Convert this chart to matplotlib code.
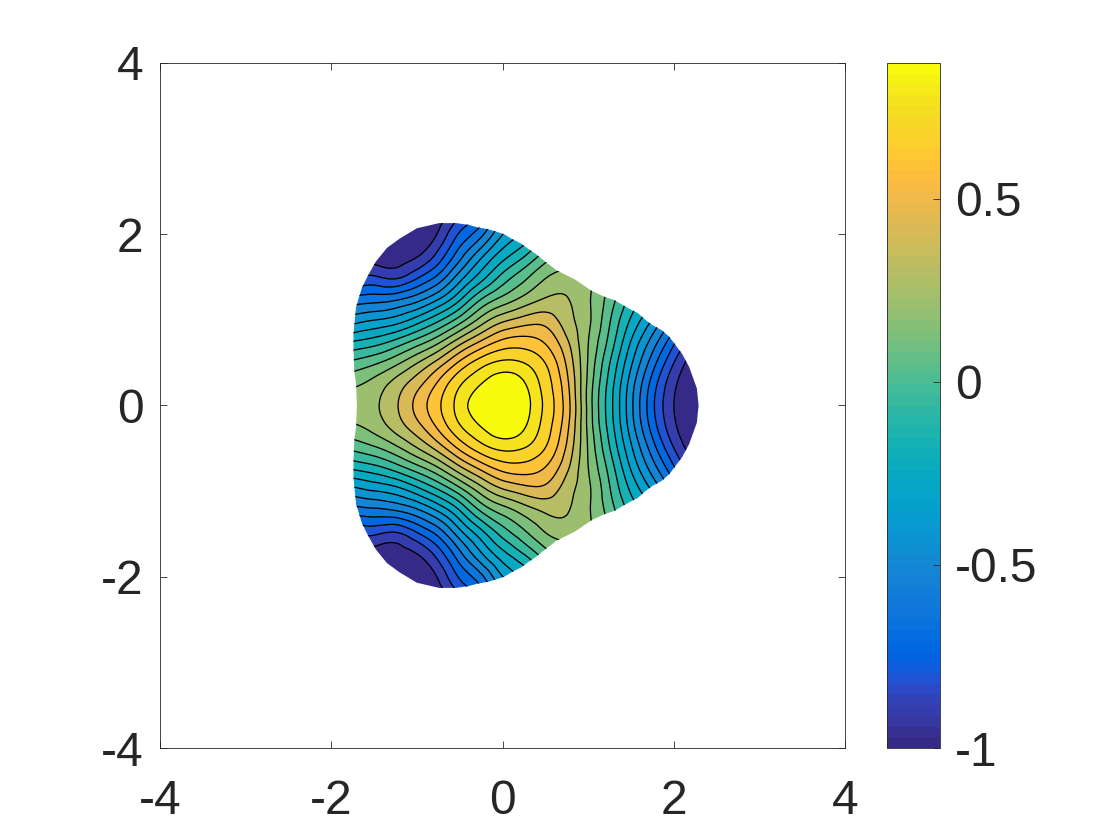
import numpy as np
import matplotlib
matplotlib.use("Agg")
import matplotlib.pyplot as plt
from matplotlib.colors import ListedColormap, Normalize
from matplotlib.cm import ScalarMappable
from matplotlib.patches import Polygon
from matplotlib.tri import Triangulation, UniformTriRefiner

plt.rcParams['font.family'] = ['Liberation Sans', 'DejaVu Sans']

# Field values (upper half; the lower half mirrors it)
x_grid = [-2, -1.75, -1.5, -1.25, -1, -.75, -.5, -.25, 0, .25, .5, .75, 1, 1.25, 1.5, 1.75, 2, 2.25, 2.5]
y_grid = [0, .25, .5, .75, 1, 1.25, 1.5, 1.75, 2, 2.25]
row_y000 = [.17, .19, .23, .32, .45, .585, .73, .84, .87, .82, .67, .47, .13, -.16, -.44, -.71, -.91, -.99, -1]
row_y025 = [.11, .14, .19, .28, .39, .53, .68, .78, .84, .79, .65, .45, .135, -.145, -.42, -.68, -.89, -.985, -1]
row_y050 = [-.04, 0, .05, .13, .24, .37, .53, .65, .71, .69, .60, .41, .15, -.105, -.36, -.60, -.82, -.96, -.98]
row_y075 = [-.24, -.2, -.16, -.09, .01, .13, .29, .43, .53, .55, .50, .35, .16, -.05, -.29, -.50, -.71, -.88, -.95]
row_y100 = [-.46, -.42, -.38, -.34, -.25, -.13, .02, .19, .31, .37, .385, .285, .175, -.01, -.21, -.38, -.57, -.75, -.88]
row_y125 = [-.65, -.62, -.60, -.58, -.51, -.39, -.22, -.03, .09, .18, .25, .25, .17, .03, -.13, -.25, -.4, -.55, -.7]
row_y150 = [-.86, -.83, -.81, -.84, -.75, -.62, -.42, -.24, -.08, .04, .15, .19, .17, .06, -.05, -.15, -.25, -.4, -.55]
row_y175 = [-.93, -.94, -.96, -.96, -.92, -.79, -.59, -.40, -.24, -.12, .02, .10, .12, .05, -.03, -.1, -.2, -.3, -.4]
row_y200 = [-.97, -.98, -1, -1, -.985, -.90, -.72, -.58, -.38, -.27, -.1, 0, .05, .03, 0, -.05, -.1, -.2, -.3]
row_y225 = [-.98, -.99, -1, -1, -.98, -.96, -.85, -.7, -.5, -.38, -.2, -.1, -.05, 0, 0, 0, -.05, -.1, -.2]

# Outline of the domain (upper half)
outline_x = [2.29, 2.27, 2.18, 2.10, 2.01, 1.95, 1.86, 1.75, 1.67, 1.58, 1.5, 1.41, 1.31, 1.19, 1.04, .85, .63,
             .50, .39, .30, .22, .12, .02, -.07, -.17, -.29, -.40, -.54, -.74, -1.0, -1.2, -1.35, -1.48, -1.57,
             -1.64, -1.68, -1.71, -1.72, -1.74, -1.74, -1.73, -1.71, -1.70]
outline_y = [0, .20, .45, .60, .72, .80, .88, .94, 1.0, 1.08, 1.12, 1.17, 1.23, 1.27, 1.34, 1.47, 1.58,
             1.68, 1.77, 1.83, 1.89, 1.94, 2.0, 2.03, 2.06, 2.08, 2.11, 2.13, 2.13, 2.07, 1.95, 1.84, 1.68, 1.52,
             1.38, 1.25, 1.15, 1.05, .84, .64, .40, .25, 0]

contour_levels = [-.911, -.822, -.733, -.644, -.555, -.466, -.377, -.288, -.199, -.11,
                  -.021, .068, .157, .246, .335, .424, .513, .602, .691, .78]
value_min, value_max = -1.0, 0.87
axis_ticks = [-4, -2, 0, 2, 4]
bar_ticks = [-1, -.5, 0, .5]
bar_labels = ['-1', '-0.5', '0', '0.5']

parula = [(0.2081,0.1663,0.5292),(0.2116,0.1898,0.5777),(0.2123,0.2138,0.6270),(0.2081,0.2386,0.6771),
(0.1959,0.2645,0.7279),(0.1707,0.2919,0.7792),(0.1253,0.3242,0.8303),(0.0591,0.3598,0.8683),
(0.0117,0.3875,0.8820),(0.0060,0.4086,0.8828),(0.0165,0.4266,0.8786),(0.0329,0.4430,0.8720),
(0.0498,0.4586,0.8641),(0.0629,0.4737,0.8554),(0.0723,0.4887,0.8467),(0.0779,0.5040,0.8384),
(0.0793,0.5200,0.8312),(0.0749,0.5375,0.8263),(0.0641,0.5570,0.8240),(0.0488,0.5772,0.8228),
(0.0343,0.5966,0.8199),(0.0265,0.6137,0.8135),(0.0239,0.6287,0.8038),(0.0231,0.6418,0.7913),
(0.0228,0.6535,0.7768),(0.0267,0.6642,0.7607),(0.0384,0.6743,0.7436),(0.0590,0.6838,0.7254),
(0.0843,0.6928,0.7062),(0.1133,0.7015,0.6859),(0.1453,0.7098,0.6646),(0.1801,0.7177,0.6424),
(0.2178,0.7250,0.6193),(0.2586,0.7317,0.5954),(0.3022,0.7376,0.5712),(0.3482,0.7424,0.5473),
(0.3953,0.7459,0.5244),(0.4420,0.7481,0.5033),(0.4871,0.7491,0.4840),(0.5300,0.7491,0.4661),
(0.5709,0.7485,0.4494),(0.6099,0.7473,0.4337),(0.6473,0.7456,0.4188),(0.6834,0.7435,0.4044),
(0.7184,0.7411,0.3905),(0.7525,0.7384,0.3768),(0.7858,0.7356,0.3633),(0.8185,0.7327,0.3498),
(0.8507,0.7299,0.3360),(0.8824,0.7274,0.3217),(0.9139,0.7258,0.3063),(0.9450,0.7261,0.2886),
(0.9739,0.7314,0.2666),(0.9938,0.7455,0.2403),(0.9990,0.7653,0.2164),(0.9955,0.7861,0.1967),
(0.9880,0.8066,0.1794),(0.9789,0.8271,0.1633),(0.9697,0.8481,0.1475),(0.9626,0.8705,0.1309),
(0.9589,0.8949,0.1132),(0.9598,0.9218,0.0948),(0.9661,0.9514,0.0755),(0.9763,0.9831,0.0538)]

W, H = 1120, 840
DARK = '#262626'
FS = 34.5
fig = plt.figure(figsize=(W / 100, H / 100), dpi=100, facecolor='white')
ax = fig.add_axes([160 / W, 1 - 748 / H, 685 / W, 685 / H])
cax = fig.add_axes([887 / W, 1 - 748 / H, 53 / W, 685 / H])

cmap = ListedColormap(parula)
norm = Normalize(value_min, value_max)

upper = np.array([row_y000, row_y025, row_y050, row_y075, row_y100,
                  row_y125, row_y150, row_y175, row_y200, row_y225])
ys = np.array(y_grid)
Z = np.vstack([upper[:0:-1], upper])
Y_axis = np.concatenate([-ys[:0:-1], ys])
X, Y = np.meshgrid(x_grid, Y_axis)
tri = Triangulation(X.ravel(), Y.ravel())
fine_tri, fine_z = UniformTriRefiner(tri).refine_field(Z.ravel(), subdiv=3)

ox = np.array(outline_x)
oy = np.array(outline_y)
outline = np.column_stack([np.concatenate([ox, ox[-2:0:-1]]), np.concatenate([oy, -oy[-2:0:-1]])])
clip = Polygon(outline, closed=True, transform=ax.transData, facecolor='none', edgecolor='none')
ax.add_patch(clip)

# Flat bands between the contour lines, as in the reference
band_edges = [value_min - 0.5] + contour_levels + [value_max + 0.5]
band_colors = [cmap(norm(v)) for v in np.linspace(value_min, value_max, len(band_edges) - 1)]
cf = ax.tricontourf(fine_tri, fine_z, levels=band_edges, colors=band_colors, antialiased=False)
cf.set_clip_path(clip)
cl = ax.tricontour(fine_tri, fine_z, levels=contour_levels, colors='k', linewidths=0.95,
                   linestyles='solid')
cl.set_clip_path(clip)

ax.set_xlim(-4, 4)
ax.set_ylim(-4, 4)
ax.set_xticks(axis_ticks)
ax.set_yticks(axis_ticks)
ax.set_xticklabels([str(t) for t in axis_ticks])
ax.set_yticklabels([str(t) for t in axis_ticks])
ax.tick_params(direction='in', length=5, width=0.6, color=DARK, top=True, right=True,
               labelsize=FS, labelcolor=DARK)
ax.tick_params(axis='x', pad=22)
ax.tick_params(axis='y', pad=12)
for s in ax.spines.values():
    s.set_linewidth(0.6)
    s.set_color(DARK)

cb = fig.colorbar(ScalarMappable(norm=norm, cmap=cmap), cax=cax)
cb.set_ticks(bar_ticks)
cb.set_ticklabels(bar_labels)
cax.tick_params(direction='in', length=5, width=0.6, color=DARK, labelsize=FS, labelcolor=DARK, pad=11)
cb.outline.set_linewidth(0.6)
cb.outline.set_edgecolor(DARK)

fig.savefig('out.png', dpi=100, facecolor='white')
